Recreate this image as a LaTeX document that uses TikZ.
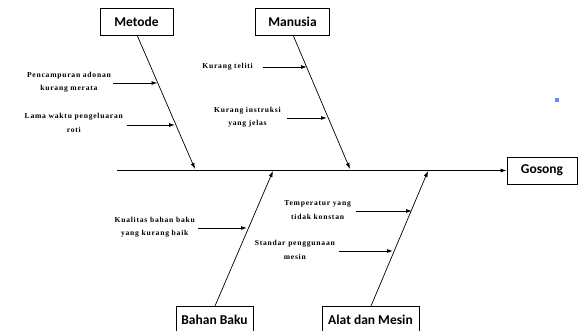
\documentclass[tikz,border=0pt]{standalone}
\usepackage{fontspec}
\setmainfont{Liberation Serif}
\newfontfamily\boxfont{Carlito}
\usetikzlibrary{arrows.meta}
\begin{document}
\begin{tikzpicture}[x=1pt,y=-1pt,
  catbox/.style={draw,line width=0.9pt,minimum height=27pt,inner sep=0pt,font=\boxfont\bfseries\fontsize{13.5}{15}\selectfont},
  cause/.style={align=center,inner sep=0pt,font=\bfseries\addfontfeature{LetterSpace=10}\fontsize{7.6}{13.5}\selectfont},
  bone/.style={line width=0.7pt,-{Latex[length=6pt,width=4pt]}},
  sub/.style={line width=0.9pt,-{Latex[length=6pt,width=4pt]}}]
\useasboundingbox (0,0) rectangle (579,331);
% category boxes
\node[catbox,minimum width=73pt] (metode) at (136.5,21.5) {Metode};
\node[catbox,minimum width=74pt] (manusia) at (292.5,21.5) {Manusia};
\node[catbox,minimum width=70pt] (gosong) at (542,170.5) {Gosong};
\node[catbox,minimum width=77pt] (bahan) at (214.5,319.5) {Bahan Baku};
\node[catbox,minimum width=97pt] (alat) at (370.5,319.5) {Alat dan Mesin};
% spine
\coordinate (s0) at (117,170.5);
\draw[bone] (s0) -- (gosong.west);
% bone ends on spine
\coordinate (mt) at (195,169);
\coordinate (mn) at (350,169);
\coordinate (bb) at (273,171);
\coordinate (am) at (428,171);
\coordinate (mt0) at (137,35);
\coordinate (mn0) at (293,35);
\coordinate (bb0) at (215,306);
\coordinate (am0) at (371,306);
\draw[bone] (mt0) -- (mt);
\draw[bone] (mn0) -- (mn);
\draw[bone] (bb0) -- (bb);
\draw[bone] (am0) -- (am);
% causes
\node[cause,anchor=east] (c1) at (111,82) {Pencampuran adonan\\kurang merata};
\coordinate (c1e) at (157.5,83);
\draw[sub] (113,83) coordinate (c1s) -- (c1e);
\node[cause,anchor=east] (c2) at (123,123) {Lama waktu pengeluaran\\roti};
\draw[sub] (127,125) coordinate (c2s) -- (175,125) coordinate (c2e);
\node[cause,anchor=east] (c3) at (253,67) {Kurang teliti};
\draw[sub] (263,67) coordinate (c3s) -- (307,67) coordinate (c3e);
\node[cause,anchor=east] (c4) at (281,117) {Kurang instruksi\\yang jelas};
\draw[sub] (287,118) coordinate (c4s) -- (327,118) coordinate (c4e);
\node[cause,anchor=east] (c5) at (195,227) {Kualitas bahan baku\\yang kurang baik};
\draw[sub] (198,228) coordinate (c5s) -- (247,228) coordinate (c5e);
\node[cause,anchor=east] (c6) at (351,210) {Temperatur yang\\tidak konstan};
\draw[sub] (356,211) coordinate (c6s) -- (412,211) coordinate (c6e);
\node[cause,anchor=east] (c7) at (335,250) {Standar penggunaan\\mesin};
\draw[sub] (339,251) coordinate (c7s) -- (393,251) coordinate (c7e);
% small blue marker
\node[fill=blue!60!cyan!70,inner sep=0pt,minimum size=4pt] (mark) at (557,100) {};
\end{tikzpicture}
\end{document}
